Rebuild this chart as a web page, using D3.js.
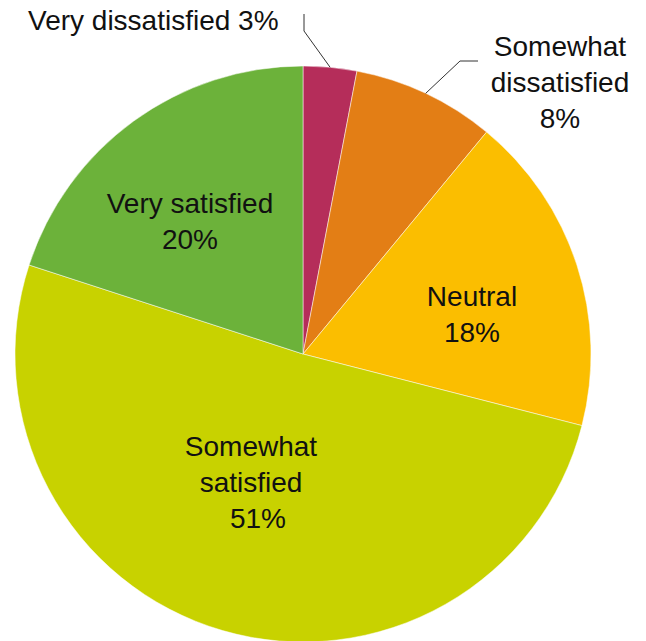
<!DOCTYPE html>
<html>
<head>
<meta charset="utf-8">
<script src="https://cdn.jsdelivr.net/npm/d3@7"></script>
<style>
  html, body { margin: 0; padding: 0; background: #fff; }
  svg { display: block; }
  text { font-family: "Liberation Sans", Arial, Helvetica, sans-serif; fill: #111; }
</style>
</head>
<body>
<svg id="chart" width="646" height="641"></svg>
<script>
// Data
const categories = ["Very dissatisfied", "Somewhat dissatisfied", "Neutral", "Somewhat satisfied", "Very satisfied"];
const values = [3, 8, 18, 51, 20];
const colors = ["#B52D5A", "#E37E15", "#FBBE00", "#C8D200", "#6CB23A"];
const labelLines = [
  ["Very dissatisfied 3%"],
  ["Somewhat", "dissatisfied", "8%"],
  ["Neutral", "18%"],
  ["Somewhat", "satisfied", "51%"],
  ["Very satisfied", "20%"]
];

const W = 646, H = 641;
const cx = 303, cy = 354, R = 288;
const fontSize = 28;

const svg = d3.select("#chart");
const g = svg.append("g").attr("transform", `translate(${cx},${cy})`);

const pie = d3.pie().sort(null).value(d => d.value).startAngle(0).endAngle(2 * Math.PI);
const data = categories.map((c, i) => ({ name: c, value: values[i], color: colors[i], lines: labelLines[i] }));
const arcs = pie(data);
const arc = d3.arc().innerRadius(0).outerRadius(R);

g.selectAll("path.slice")
  .data(arcs)
  .join("path")
  .attr("class", "slice")
  .attr("d", arc)
  .attr("fill", d => d.data.color)
  .attr("stroke", "#ffffff")
  .attr("stroke-width", 0.5);

// Label layout (positions relative to svg), per slice index
const layout = {
  0: { x: 28, y: 30, anchor: "start", leader: { elbow: [304, 31], end: [304, 14] } },
  1: { x: 560, y: 56, anchor: "middle", leader: { elbow: [460, 61], end: [478, 61] } },
  2: { x: 472, y: 306, anchor: "middle" },
  3: { x: 251, y: 456, anchor: "middle", lastDx: 7 },
  4: { x: 190, y: 213, anchor: "middle" }
};
const lineH = 36.2;

// Leader lines
arcs.forEach((a, i) => {
  const L = layout[i];
  if (!L.leader) return;
  const mid = (a.startAngle + a.endAngle) / 2;
  const sx = cx + R * Math.sin(mid);
  const sy = cy - R * Math.cos(mid);
  svg.append("polyline")
    .attr("points", [[sx, sy], L.leader.elbow, L.leader.end].map(p => p.join(",")).join(" "))
    .attr("fill", "none")
    .attr("stroke", "#333")
    .attr("stroke-width", 1);
});

// Labels
arcs.forEach((a, i) => {
  const L = layout[i];
  const t = svg.append("text")
    .attr("text-anchor", L.anchor)
    .attr("font-size", fontSize);
  a.data.lines.forEach((ln, k) => {
    t.append("tspan")
      .attr("x", L.x + (k === a.data.lines.length - 1 && L.lastDx ? L.lastDx : 0))
      .attr("y", L.y + k * lineH)
      .text(ln);
  });
});
</script>
</body>
</html>
